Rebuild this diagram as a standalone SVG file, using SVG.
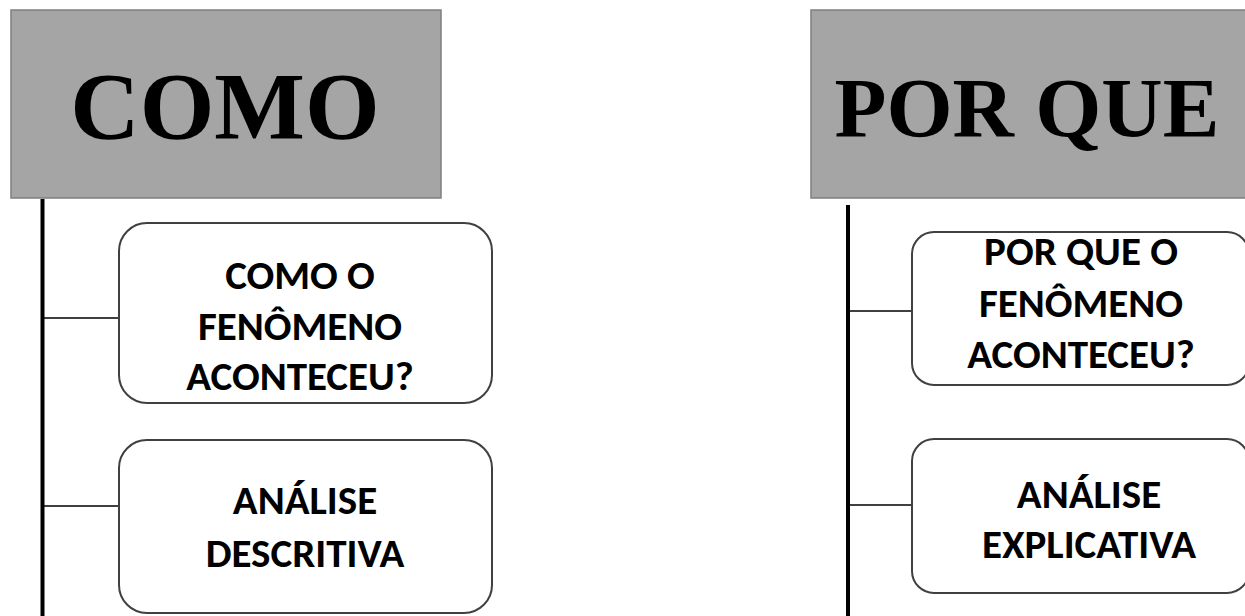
<svg xmlns="http://www.w3.org/2000/svg" width="1245" height="616" viewBox="0 0 1245 616">
<style>
.hdr{fill:#a5a5a5;stroke:#7f7f7f;stroke-width:1.5}
.htxt{font-family:"Liberation Serif","Times New Roman",serif;font-weight:bold;fill:#000;text-anchor:middle}
.box{fill:#fff;stroke:#404040;stroke-width:2}
.btxt{font-family:Carlito,Calibri,"Liberation Sans",sans-serif;font-weight:bold;font-size:41px;fill:#000;text-anchor:middle}
.trunk{stroke:#000;stroke-width:4;fill:none}
.branch{stroke:#000;stroke-width:1.5;fill:none}
</style>
<rect width="1245" height="616" fill="#fff"/>
<g id="connectors">
<line class="trunk" x1="42.5" y1="199" x2="42.5" y2="616"/>
<line class="branch" x1="44" y1="318" x2="119" y2="318"/>
<line class="branch" x1="44" y1="506" x2="119" y2="506"/>
<line class="trunk" x1="848" y1="205" x2="848" y2="616"/>
<line class="branch" x1="850" y1="311" x2="912" y2="311"/>
<line class="branch" x1="850" y1="505" x2="912" y2="505"/>
</g>
<g id="como">
<rect class="hdr" x="11" y="10" width="430" height="188"/>
<text class="htxt" x="225" y="139" font-size="96">COMO</text>
</g>
<g id="por-que">
<rect class="hdr" x="811" y="10" width="445" height="188"/>
<text class="htxt" x="1027" y="137" font-size="85">POR QUE</text>
</g>
<g id="como-fenomeno">
<rect class="box" x="119" y="223" width="373" height="180" rx="28"/>
<text class="btxt" x="300" y="289">COMO O</text>
<text class="btxt" x="300" y="340">FENÔMENO</text>
<text class="btxt" x="300" y="390">ACONTECEU?</text>
</g>
<g id="analise-descritiva">
<rect class="box" x="119" y="440" width="373" height="173" rx="28"/>
<text class="btxt" x="305" y="514">ANÁLISE</text>
<text class="btxt" x="305" y="567">DESCRITIVA</text>
</g>
<g id="por-que-fenomeno">
<rect class="box" x="912" y="232" width="337" height="153" rx="22"/>
<text class="btxt" x="1081" y="265">POR QUE O</text>
<text class="btxt" x="1081" y="317">FENÔMENO</text>
<text class="btxt" x="1081" y="368">ACONTECEU?</text>
</g>
<g id="analise-explicativa">
<rect class="box" x="912" y="439" width="337" height="154" rx="22"/>
<text class="btxt" x="1089" y="508">ANÁLISE</text>
<text class="btxt" x="1089" y="558">EXPLICATIVA</text>
</g>
</svg>
